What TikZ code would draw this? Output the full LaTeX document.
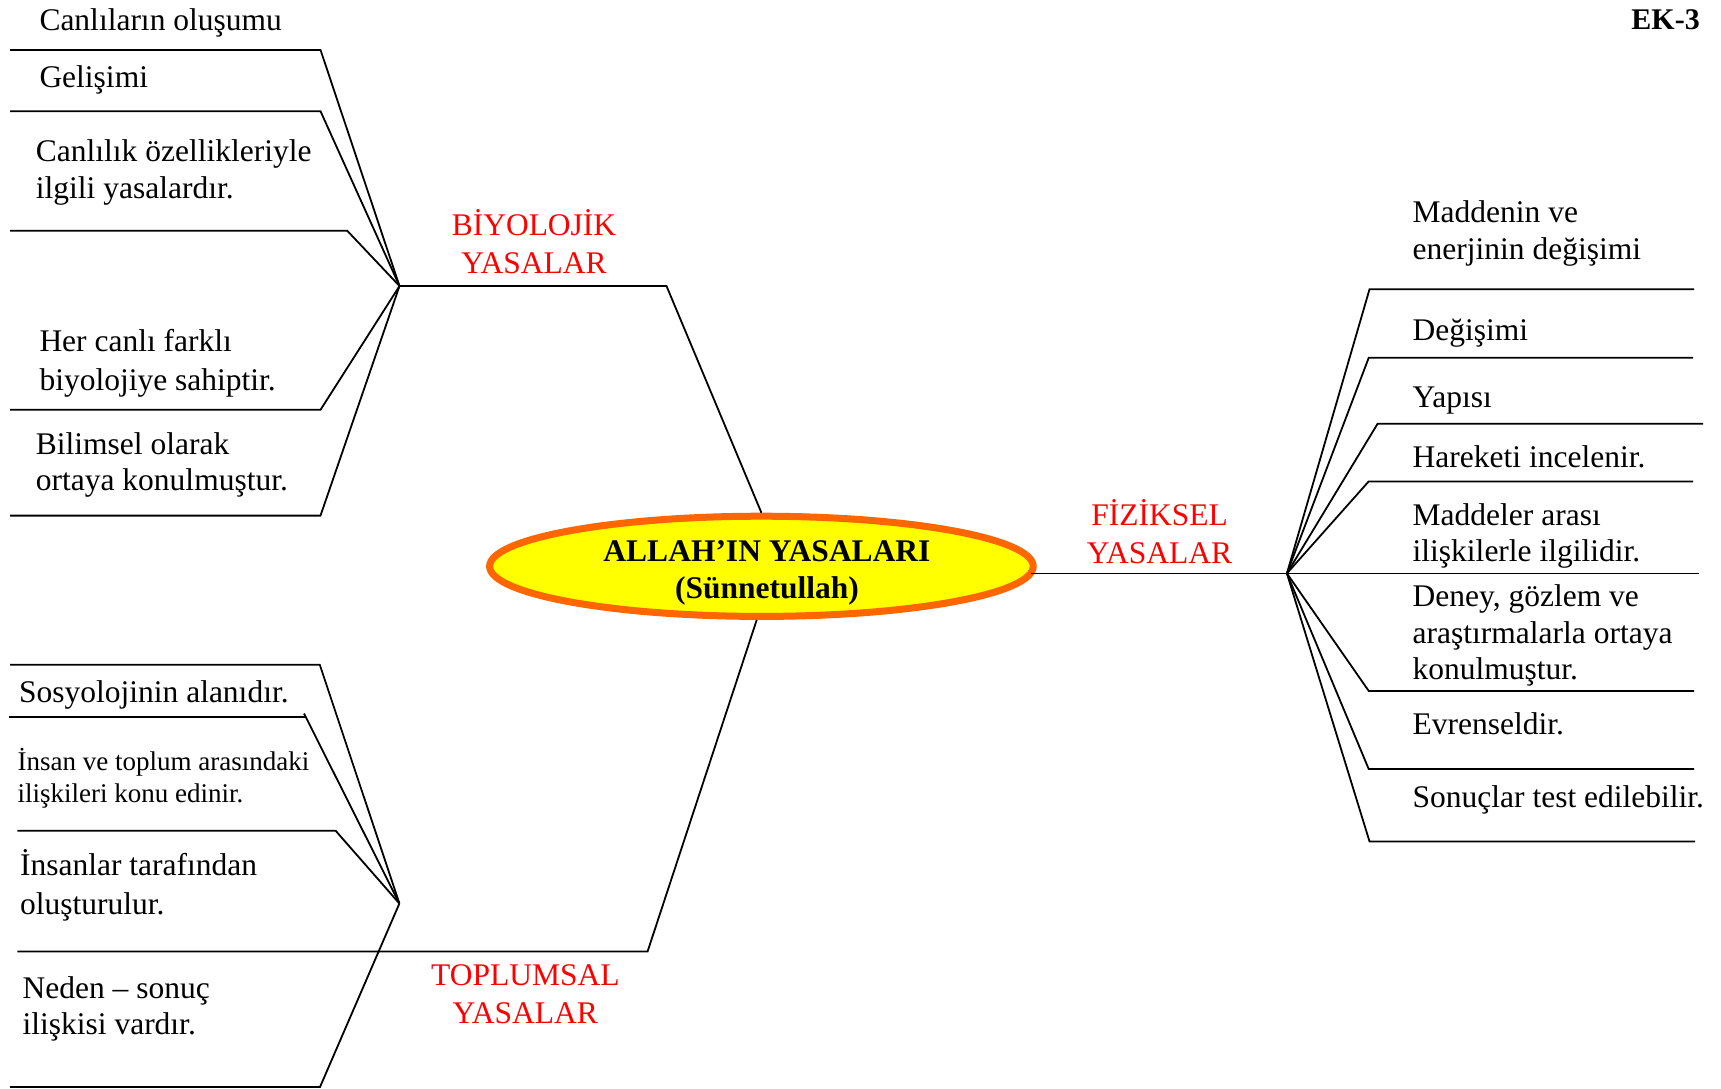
\documentclass[tikz,border=0pt]{standalone}
\usepackage{fontspec}
\setmainfont{Liberation Serif}
\usetikzlibrary{shapes.geometric}
\definecolor{lawred}{RGB}{255,0,0}
\definecolor{lawor}{RGB}{255,102,0}
\definecolor{lawyel}{RGB}{255,255,0}
\begin{document}
\begin{tikzpicture}[x=1pt,y=-1pt,
  conn/.style={line width=1.8pt, black},
  txt/.style={font=\fontsize{31.5}{36.5}\selectfont, inner sep=0pt, anchor=base west, align=left},
  smalltxt/.style={font=\fontsize{27}{31.5}\selectfont, inner sep=0pt, anchor=base west, align=left},
  cat/.style={font=\fontsize{31.5}{38}\selectfont, text=lawred, inner sep=0pt, anchor=base, align=center},
  core/.style={ellipse, draw=lawor, fill=lawyel, line width=7pt, inner sep=0pt}
]
\useasboundingbox (0,0) rectangle (1721,1088);

% central ellipse
\node[core, minimum width=543.6pt, minimum height=100.2pt] (ell) at (761.4,566.3) {};
\node[font=\bfseries\fontsize{31.5}{36.7}\selectfont, align=center, anchor=base, inner sep=0pt] (title) at (767,598.3) {ALLAH’IN YASALARI\\(Sünnetullah)};

\node[font=\bfseries\fontsize{30}{36}\selectfont, anchor=base east, inner sep=0pt] (ek) at (1700,29.3) {EK-3};

% hubs
\coordinate (hb) at (399.5,286);
\coordinate (ht) at (399.4,903.5);
\coordinate (hf) at (1286.9,573.4);

% ---- BIYOLOJIK ----
\coordinate (a1s) at (10,49.9);   \coordinate (a1e) at (320.5,49.9);
\coordinate (a2s) at (10,111.2);  \coordinate (a2e) at (320.5,111.2);
\coordinate (a3s) at (10,230.8);  \coordinate (a3e) at (347.3,230.8);
\coordinate (a4s) at (10,409.8);  \coordinate (a4e) at (320.5,409.8);
\coordinate (a5s) at (10,515.6);  \coordinate (a5e) at (320.5,515.6);
\coordinate (bk) at (666.5,286);
\draw[conn] (a1s) -- (a1e) -- (hb);
\draw[conn] (a2s) -- (a2e) -- (hb);
\draw[conn] (a3s) -- (a3e) -- (hb);
\draw[conn] (a4s) -- (a4e) -- (hb);
\draw[conn] (a5s) -- (a5e) -- (hb);
\draw[conn] (hb) -- (bk) -- (ell.north);

\node[txt] (ta1) at (39.3,30.3) {Canlıların oluşumu};
\node[txt] (ta2) at (39.3,87.8) {Gelişimi};
\node[txt] (ta3) at (35.7,198) {Canlılık özellikleriyle\\ilgili yasalardır.};
\node[txt, font=\fontsize{31.5}{39.6}\selectfont] (ta4) at (39.3,390.9) {Her canlı farklı\\biyolojiye sahiptir.};
\node[txt] (ta5) at (35.7,490.8) {Bilimsel olarak\\ortaya konulmuştur.};
\node[cat] (lb) at (534,273.8) {BİYOLOJİK\\YASALAR};

% ---- TOPLUMSAL ----
\coordinate (c1s) at (10,664.8);   \coordinate (c1e) at (319.8,664.8);
\coordinate (c2s) at (9,717.2);    \coordinate (c2e) at (305,717.2);
\coordinate (c2k) at (304,713.5);
\coordinate (c3s) at (17.4,830.8); \coordinate (c3e) at (335.7,830.8);
\coordinate (c4s) at (17.4,951.4); \coordinate (c4e) at (647.6,951.4);
\coordinate (c5s) at (10,1087);    \coordinate (c5e) at (320,1087);
\draw[conn] (c1s) -- (c1e) -- (ht);
\draw[conn] (c2s) -- (c2e);
\draw[conn] (c2k) -- (ht);
\draw[conn] (c3s) -- (c3e) -- (ht);
\draw[conn] (c4s) -- (c4e) -- (ell.265);
\draw[conn] (c5s) -- (c5e) -- (ht);

\node[txt] (tc1) at (18.9,702.5) {Sosyolojinin alanıdır.};
\node[smalltxt] (tc2) at (17.4,802.1) {İnsan ve toplum arasındaki\\ilişkileri konu edinir.};
\node[txt, font=\fontsize{31.5}{38.5}\selectfont] (tc3) at (19.9,914) {İnsanlar tarafından\\oluşturulur.};
\node[txt] (tc4) at (22.4,1034.5) {Neden – sonuç\\ilişkisi vardır.};
\node[cat] (lt) at (525.3,1023.3) {TOPLUMSAL\\YASALAR};

% ---- FIZIKSEL ----
\coordinate (r1e) at (1369.5,289.3); \coordinate (r1f) at (1694,289.3);
\coordinate (r2e) at (1368.7,357.8); \coordinate (r2f) at (1693,357.8);
\coordinate (r3e) at (1377.6,423.7); \coordinate (r3f) at (1703,423.7);
\coordinate (r4e) at (1368.7,481.4); \coordinate (r4f) at (1693,481.4);
\coordinate (r5f) at (1698.6,573.4);
\coordinate (r6e) at (1368.7,690.9); \coordinate (r6f) at (1694,690.9);
\coordinate (r7e) at (1368.7,769);   \coordinate (r7f) at (1694,769);
\coordinate (r8e) at (1369.5,841.4); \coordinate (r8f) at (1695,841.4);
\draw[conn] ([xshift=-6pt]ell.east |- hf) -- (hf) -- (r5f);
\draw[conn] (hf) -- (r1e) -- (r1f);
\draw[conn] (hf) -- (r2e) -- (r2f);
\draw[conn] (hf) -- (r3e) -- (r3f);
\draw[conn] (hf) -- (r4e) -- (r4f);
\draw[conn] (hf) -- (r6e) -- (r6f);
\draw[conn] (hf) -- (r7e) -- (r7f);
\draw[conn] (hf) -- (r8e) -- (r8f);

\node[txt, font=\fontsize{31.5}{37.4}\selectfont] (tr1) at (1412.5,259.4) {Maddenin ve\\enerjinin değişimi};
\node[txt] (tr2) at (1412.5,340.5) {Değişimi};
\node[txt] (tr3) at (1412.5,407.7) {Yapısı};
\node[txt] (tr4) at (1412.5,467.1) {Hareketi incelenir.};
\node[txt] (tr5) at (1412.5,561.6) {Maddeler arası\\ilişkilerle ilgilidir.};
\node[txt] (tr6) at (1412.5,679.6) {Deney, gözlem ve\\araştırmalarla ortaya\\konulmuştur.};
\node[txt] (tr7) at (1412.5,734.3) {Evrenseldir.};
\node[txt] (tr8) at (1412.5,807.6) {Sonuçlar test edilebilir.};
\node[cat] (lf) at (1159.5,563.8) {FİZİKSEL\\YASALAR};
\end{tikzpicture}
\end{document}
